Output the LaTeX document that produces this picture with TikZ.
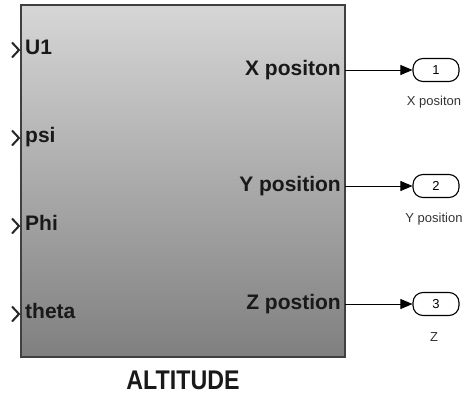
\documentclass[tikz,border=0pt]{standalone}
\usepackage{fontspec}
\setmainfont{Liberation Sans}
\usetikzlibrary{arrows.meta}
\begin{document}
\begin{tikzpicture}[x=1pt,y=-1pt,
  blk/.style={draw=black!75,line width=1.2pt,top color=black!16,bottom color=black!50,minimum width=324pt,minimum height=352pt,inner sep=0pt},
  inlab/.style={anchor=west,inner sep=0pt,font=\fontsize{21}{21}\selectfont\bfseries,text=black!90},
  outlab/.style={anchor=east,inner sep=0pt,font=\fontsize{21}{21}\selectfont\bfseries,text=black!90},
  chev/.style={line width=2pt,black!85},
  port/.style={draw,rounded corners=10pt,line width=1.1pt,minimum width=46pt,minimum height=23pt,inner sep=0pt,font=\fontsize{13}{13}\selectfont},
  plab/.style={inner sep=0pt,font=\fontsize{13}{13}\selectfont,text=black!80},
  sig/.style={line width=0.9pt,-{Triangle[length=12pt,width=10pt]}}
]
\useasboundingbox (0,0) rectangle (471,396);
\node[blk] (b) at (183,181) {};
\node[inner sep=0pt,font=\fontsize{27}{27}\selectfont\bfseries,xscale=0.86,text=black!90] (title) at (183,380) {ALTITUDE};
% inputs
\foreach \n/\t/\y in {u/U1/50,p/psi/138,h/Phi/226,t/theta/314}{
  \coordinate (c\n) at (12,\y);
  \draw[chev] (12,\y-7.5) -- (19,\y) -- (12,\y+7.5);
  \node[inlab] (i\n) at (25,\y) {\strut\t};
}
% outputs
\node[outlab] (ox) at (341,70) {X positon};
\node[outlab] (oy) at (341,186) {Y position};
\node[outlab] (oz) at (341,304) {Z postion};
\coordinate (sx) at (345,70);
\coordinate (sy) at (345,186);
\coordinate (sz) at (345,304);
\node[port] (p1) at (436,70) {1};
\node[port] (p2) at (436,186) {2};
\node[port] (p3) at (436,304) {3};
\draw[sig] (sx) -- (p1.west);
\draw[sig] (sy) -- (p2.west);
\draw[sig] (sz) -- (p3.west);
\node[plab] (l1) at (434,102) {X positon};
\node[plab] (l2) at (434,219) {Y position};
\node[plab] (l3) at (434,337) {Z};
\end{tikzpicture}
\end{document}
